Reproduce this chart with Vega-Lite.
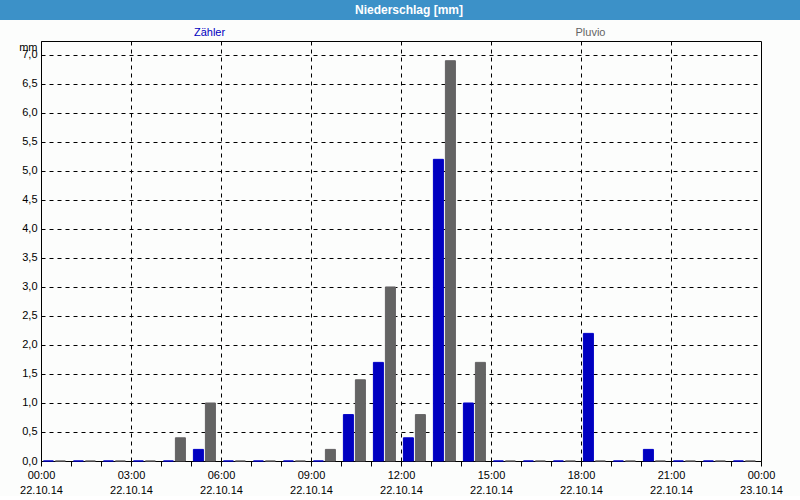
{
  "$schema": "https://vega.github.io/schema/vega-lite/v6.json",
  "padding": 0,
  "spacing": 0,
  "background": "#fcfdfc",
  "config": {
    "font": "Liberation Sans",
    "view": {"stroke": null},
    "concat": {"spacing": 0}
  },
  "datasets": {
    "rain": [
      {"hour": 0, "series": "Zähler", "mm": 0}, {"hour": 0, "series": "Pluvio", "mm": 0},
      {"hour": 1, "series": "Zähler", "mm": 0}, {"hour": 1, "series": "Pluvio", "mm": 0},
      {"hour": 2, "series": "Zähler", "mm": 0}, {"hour": 2, "series": "Pluvio", "mm": 0},
      {"hour": 3, "series": "Zähler", "mm": 0}, {"hour": 3, "series": "Pluvio", "mm": 0},
      {"hour": 4, "series": "Zähler", "mm": 0}, {"hour": 4, "series": "Pluvio", "mm": 0.4},
      {"hour": 5, "series": "Zähler", "mm": 0.2}, {"hour": 5, "series": "Pluvio", "mm": 1.0},
      {"hour": 6, "series": "Zähler", "mm": 0}, {"hour": 6, "series": "Pluvio", "mm": 0},
      {"hour": 7, "series": "Zähler", "mm": 0}, {"hour": 7, "series": "Pluvio", "mm": 0},
      {"hour": 8, "series": "Zähler", "mm": 0}, {"hour": 8, "series": "Pluvio", "mm": 0},
      {"hour": 9, "series": "Zähler", "mm": 0}, {"hour": 9, "series": "Pluvio", "mm": 0.2},
      {"hour": 10, "series": "Zähler", "mm": 0.8}, {"hour": 10, "series": "Pluvio", "mm": 1.4},
      {"hour": 11, "series": "Zähler", "mm": 1.7}, {"hour": 11, "series": "Pluvio", "mm": 3.0},
      {"hour": 12, "series": "Zähler", "mm": 0.4}, {"hour": 12, "series": "Pluvio", "mm": 0.8},
      {"hour": 13, "series": "Zähler", "mm": 5.2}, {"hour": 13, "series": "Pluvio", "mm": 6.9},
      {"hour": 14, "series": "Zähler", "mm": 1.0}, {"hour": 14, "series": "Pluvio", "mm": 1.7},
      {"hour": 15, "series": "Zähler", "mm": 0}, {"hour": 15, "series": "Pluvio", "mm": 0},
      {"hour": 16, "series": "Zähler", "mm": 0}, {"hour": 16, "series": "Pluvio", "mm": 0},
      {"hour": 17, "series": "Zähler", "mm": 0}, {"hour": 17, "series": "Pluvio", "mm": 0},
      {"hour": 18, "series": "Zähler", "mm": 2.2}, {"hour": 18, "series": "Pluvio", "mm": 0},
      {"hour": 19, "series": "Zähler", "mm": 0}, {"hour": 19, "series": "Pluvio", "mm": 0},
      {"hour": 20, "series": "Zähler", "mm": 0.2}, {"hour": 20, "series": "Pluvio", "mm": 0},
      {"hour": 21, "series": "Zähler", "mm": 0}, {"hour": 21, "series": "Pluvio", "mm": 0},
      {"hour": 22, "series": "Zähler", "mm": 0}, {"hour": 22, "series": "Pluvio", "mm": 0},
      {"hour": 23, "series": "Zähler", "mm": 0}, {"hour": 23, "series": "Pluvio", "mm": 0}
    ]
  },
  "vconcat": [
    {
      "width": 800,
      "height": 20,
      "view": {"fill": "#3c91c8", "stroke": null},
      "data": {"values": [{"t": "Niederschlag [mm]"}]},
      "mark": {"type": "text", "font": "Liberation Sans", "fontWeight": "bold", "fontSize": 12, "color": "white", "dx": 9, "dy": 0},
      "encoding": {"text": {"field": "t"}}
    },
    {
      "width": 800,
      "height": 20,
      "data": {"values": [{"series": "Zähler"}, {"series": "Pluvio"}]},
      "mark": {"type": "text", "fontSize": 11, "dy": 3},
      "encoding": {
        "x": {"field": "series", "type": "nominal", "scale": {"type": "point", "domain": ["Zähler", "Pluvio"], "padding": 0.55}, "axis": null},
        "color": {"field": "series", "type": "nominal", "scale": {"domain": ["Zähler", "Pluvio"], "range": ["#0000c0", "#646464"]}, "legend": null},
        "text": {"field": "series"}
      }
    },
    {
      "spacing": 0,
      "hconcat": [
        {
          "width": 1,
          "height": 420,
          "data": {"values": [{"s": 0}]},
          "mark": {"type": "point", "opacity": 0, "size": 1}
        },
        {
          "width": 720,
          "height": 420,
          "view": {"stroke": "black", "strokeWidth": 1, "fill": "#fcfdfc"},
          "data": {"name": "rain"},
          "layer": [
            {
              "mark": {"type": "point", "opacity": 0},
              "encoding": {
                "x": {
                  "field": "hour", "type": "quantitative",
                  "scale": {"domain": [0, 24], "nice": false, "zero": false},
                  "axis": {
                    "title": null,
                    "values": [0,1,2,3,4,5,6,7,8,9,10,11,12,13,14,15,16,17,18,19,20,21,22,23,24],
                    "labelExpr": "datum.value % 3 === 0 ? [(datum.value % 24 < 10 ? '0' : '') + (datum.value % 24) + ':00', datum.value < 24 ? '22.10.14' : '23.10.14'] : ''",
                    "labelFontSize": 11,
                    "labelColor": "black",
                    "labelLineHeight": 15,
                    "labelPadding": 3,
                    "labelFlush": false,
                    "labelOverlap": false,
                    "tickColor": "black",
                    "tickSize": 5,
                    "domainColor": "black",
                    "grid": true,
                    "gridColor": "black",
                    "gridDash": [4, 4],
                    "gridOpacity": {"condition": {"test": "datum.value % 3 === 0 && datum.value > 0 && datum.value < 24", "value": 1}, "value": 0}
                  }
                },
                "y": {
                  "field": "mm", "type": "quantitative",
                  "scale": {"domain": [0, 7.24], "nice": false, "zero": true},
                  "axis": {
                    "title": "mm",
                    "titleAngle": 0,
                    "titleAlign": "right",
                    "titleBaseline": "alphabetic",
                    "titleX": -4,
                    "titleY": 9,
                    "titleFontWeight": "normal",
                    "titleFontSize": 11,
                    "titleColor": "black",
                    "values": [0,0.5,1,1.5,2,2.5,3,3.5,4,4.5,5,5.5,6,6.5,7],
                    "labelExpr": "replace(format(datum.value, '.1f'), '.', ',')",
                    "labelFontSize": 11,
                    "labelColor": "black",
                    "labelPadding": 4,
                    "labelOverlap": false,
                    "labelFlush": false,
                    "ticks": false,
                    "domainColor": "black",
                    "minExtent": 39,
                    "grid": true,
                    "gridColor": "black",
                    "gridDash": [4, 4],
                    "gridOpacity": {"condition": {"test": "datum.value > 0", "value": 1}, "value": 0}
                  }
                }
              }
            },
            {
              "mark": {"type": "bar", "strokeWidth": 1},
              "encoding": {
                "x": {
                  "field": "hour", "type": "ordinal",
                  "scale": {"domain": [0,1,2,3,4,5,6,7,8,9,10,11,12,13,14,15,16,17,18,19,20,21,22,23], "paddingInner": 0, "paddingOuter": 0},
                  "axis": null
                },
                "xOffset": {
                  "field": "series", "type": "nominal",
                  "scale": {"domain": ["Zähler", "Pluvio"], "paddingInner": 0.1667, "paddingOuter": 0.333, "align": 0.3}
                },
                "y": {
                  "field": "mm", "type": "quantitative",
                  "scale": {"domain": [0, 7.24], "nice": false, "zero": true},
                  "axis": {
                    "title": "mm",
                    "titleAngle": 0,
                    "titleAlign": "right",
                    "titleBaseline": "alphabetic",
                    "titleX": -4,
                    "titleY": 9,
                    "titleFontWeight": "normal",
                    "titleFontSize": 11,
                    "titleColor": "black",
                    "values": [0,0.5,1,1.5,2,2.5,3,3.5,4,4.5,5,5.5,6,6.5,7],
                    "labelExpr": "replace(format(datum.value, '.1f'), '.', ',')",
                    "labelFontSize": 11,
                    "labelColor": "black",
                    "labelPadding": 4,
                    "labelOverlap": false,
                    "labelFlush": false,
                    "ticks": false,
                    "domainColor": "black",
                    "minExtent": 39,
                    "grid": true,
                    "gridColor": "black",
                    "gridDash": [4, 4],
                    "gridOpacity": {"condition": {"test": "datum.value > 0", "value": 1}, "value": 0}
                  }
                },
                "color": {"field": "series", "type": "nominal", "scale": {"domain": ["Zähler", "Pluvio"], "range": ["#0000c8", "#646264"]}, "legend": null},
                "stroke": {"field": "series", "type": "nominal", "scale": {"domain": ["Zähler", "Pluvio"], "range": ["#0000c8", "#646264"]}, "legend": null}
              }
            }
          ],
          "resolve": {"scale": {"x": "independent"}, "axis": {"x": "independent"}}
        }
      ]
    }
  ]
}
